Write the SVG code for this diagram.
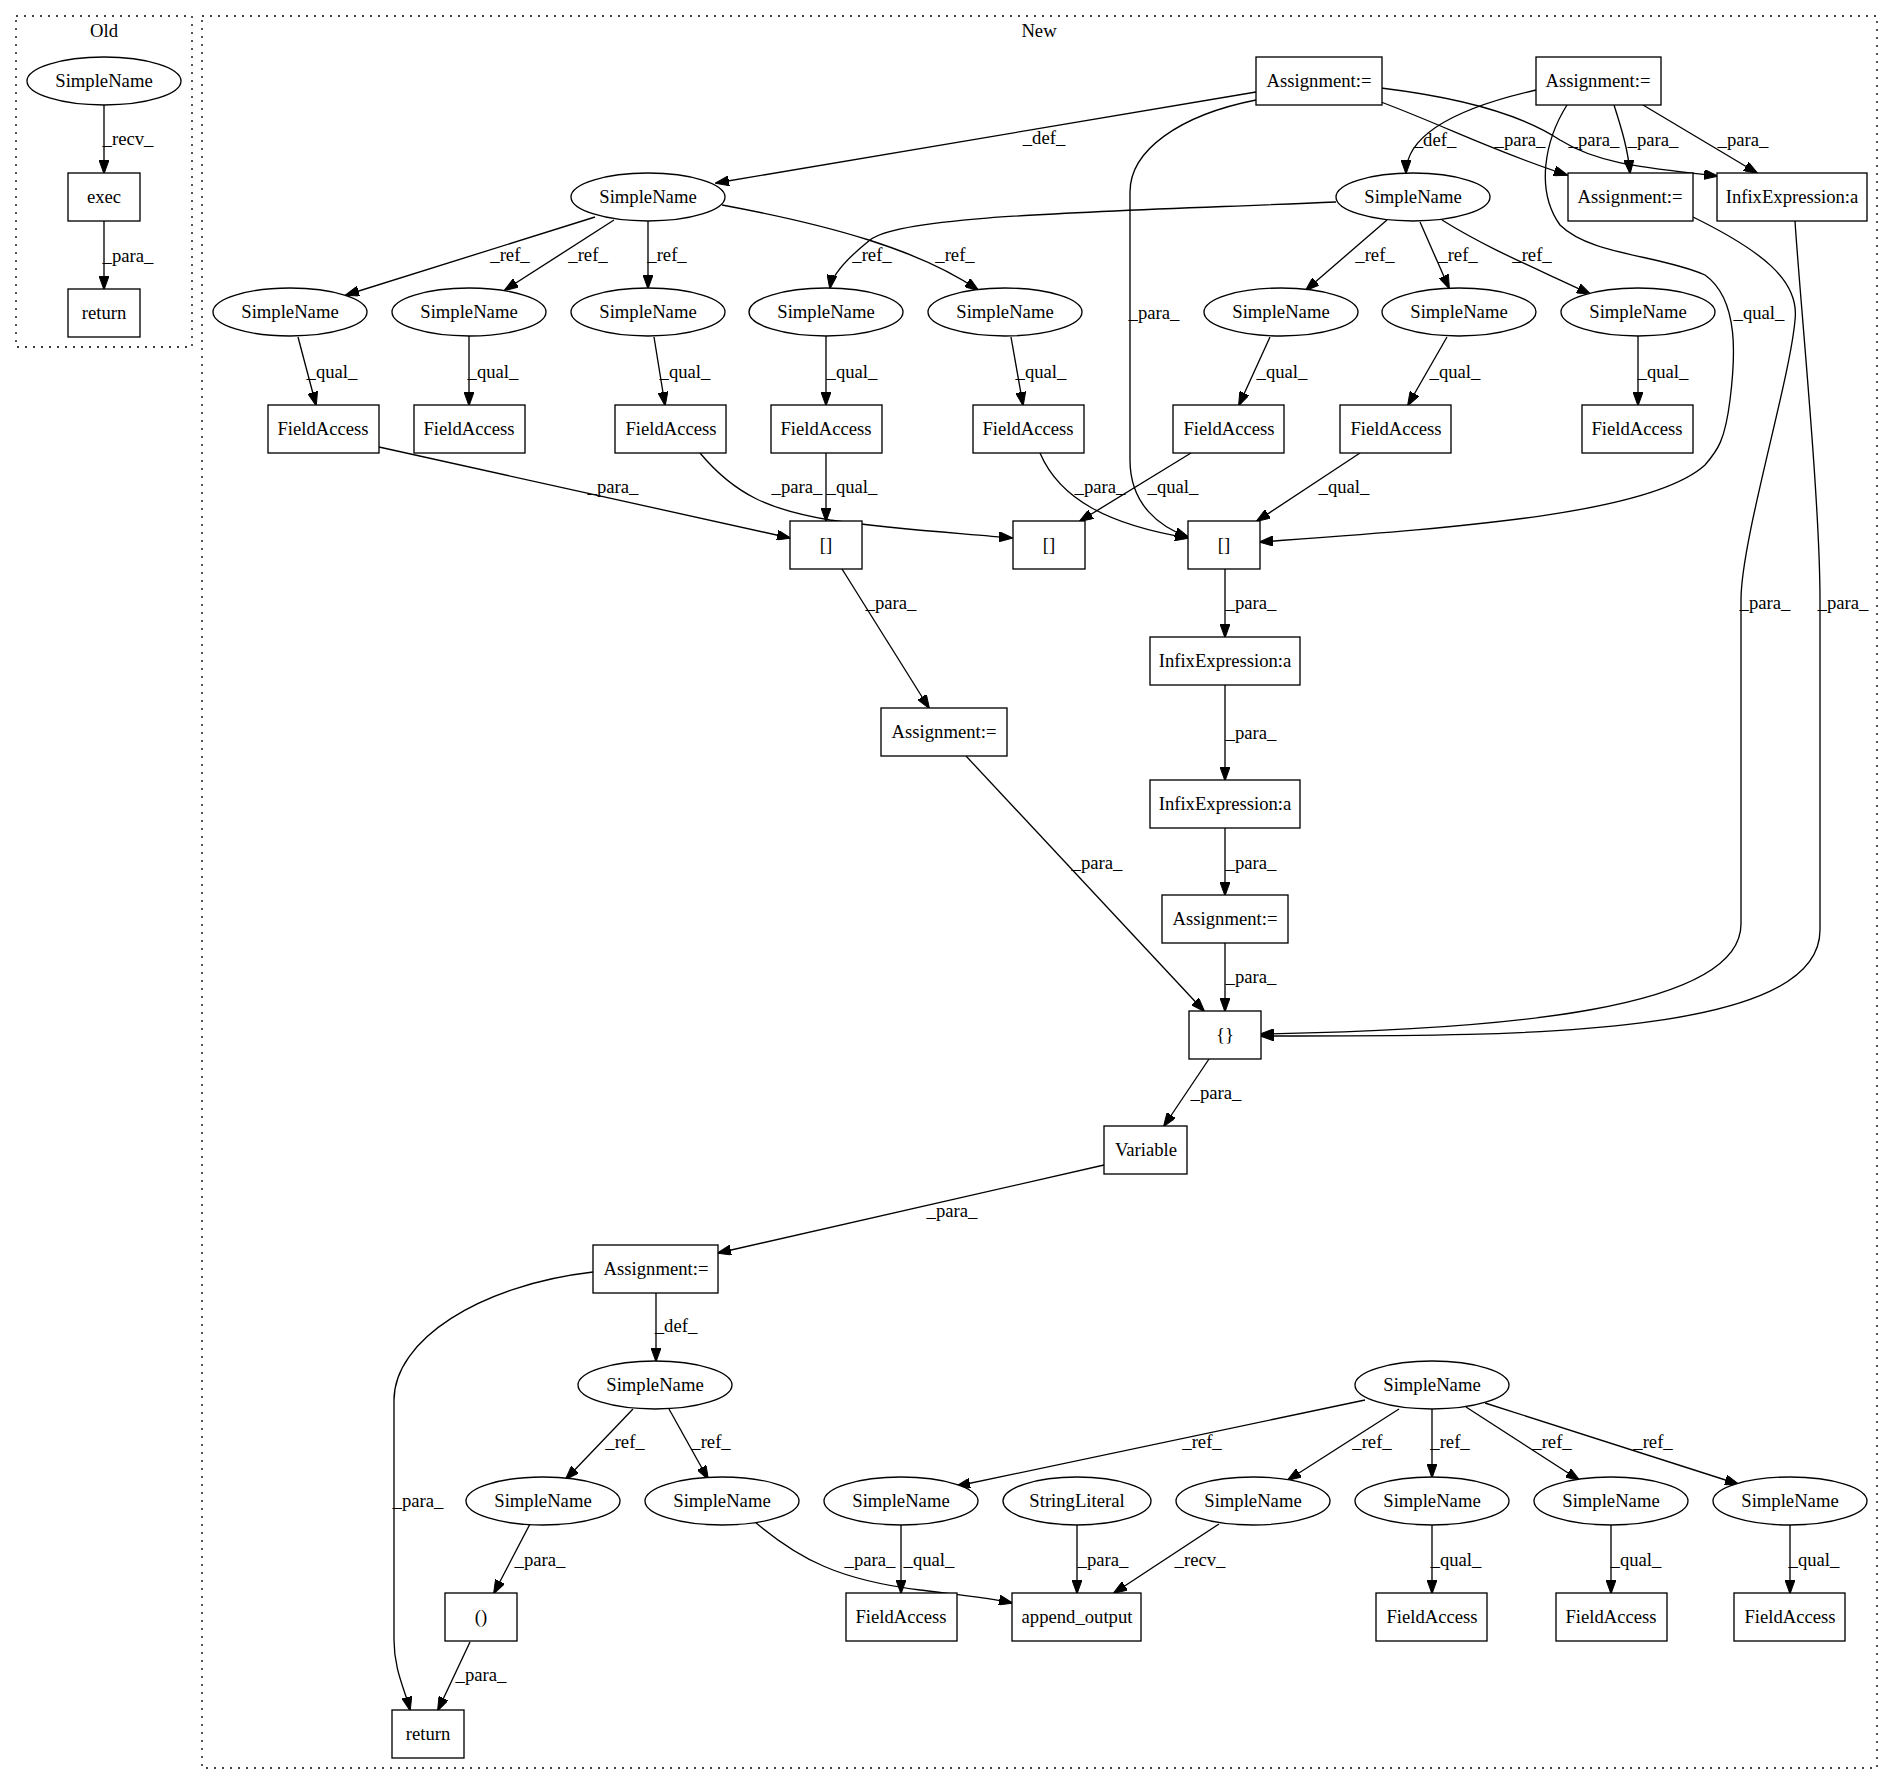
<svg xmlns="http://www.w3.org/2000/svg" width="1893" height="1784" viewBox="0 0 1893 1784">
<style>
.bg{fill:#fff}
.cl{fill:none;stroke:#000;stroke-width:1.33;stroke-dasharray:2,6}
.n rect,.n ellipse{fill:#fff;stroke:#000;stroke-width:1.33}
text{font-family:"Liberation Serif","Times New Roman",serif;font-size:18.67px;text-anchor:middle;fill:#000}
.e path{fill:none;stroke:#000;stroke-width:1.33;marker-end:url(#ah)}
</style>
<defs>
<marker id="ah" markerUnits="userSpaceOnUse" markerWidth="14" markerHeight="10" refX="13" refY="5" orient="auto"><path d="M0,0 L14,5 L0,10 z" fill="#000" stroke="#000" stroke-width="1"/></marker>
</defs>
<rect class="bg" x="0" y="0" width="1893" height="1784"/>
<g id="clusters">
<rect class="cl" x="16" y="16" width="176" height="331"/>
<text x="104" y="37">Old</text>
<rect class="cl" x="202" y="16" width="1675" height="1752"/>
<text x="1039" y="37">New</text>
</g>
<g id="edges" class="e">
<path d="M104,105 L104,173"/>
<path d="M104,221 L104,289"/>
<path d="M1256,92 L716,183"/>
<path d="M1256,100 C1180,115 1130,150 1130,192 L1130,460 C1130,505 1160,527 1188,537"/>
<path d="M1381,102 C1450,128 1490,150 1567,175"/>
<path d="M1381,88 C1480,100 1530,120 1560,140 C1600,165 1650,168 1717,176"/>
<path d="M1536,90 C1470,105 1406,130 1406,173"/>
<path d="M1614,105 C1622,130 1628,150 1630,173"/>
<path d="M1643,105 L1757,173"/>
<path d="M1567,105 C1545,140 1535,190 1560,225 C1590,255 1660,255 1705,275 C1740,300 1735,360 1730,400 C1725,440 1718,450 1705,465 C1650,515 1450,528 1260,542"/>
<path d="M1693,217 C1760,250 1800,280 1795,320 C1790,380 1741,540 1741,600 L1741,924 C1741,1010 1500,1030 1261,1034"/>
<path d="M1795,221 C1800,300 1820,500 1820,600 L1820,930 C1820,1040 1500,1036 1261,1036"/>
<path d="M595,217 L346,295"/>
<path d="M614,220 L505,290"/>
<path d="M648,221 L648,288"/>
<path d="M722,205 C830,225 920,250 978,290"/>
<path d="M1336,202 C1100,212 900,215 870,240 C845,260 832,275 830,288"/>
<path d="M1387,220 L1306,290"/>
<path d="M1420,222 L1449,288"/>
<path d="M1442,220 C1490,250 1540,270 1590,294"/>
<path d="M298,337 L316,405"/>
<path d="M469,336 L469,405"/>
<path d="M654,337 L665,405"/>
<path d="M826,336 L826,405"/>
<path d="M1011,337 L1023,405"/>
<path d="M1270,337 L1239,405"/>
<path d="M1447,337 L1408,405"/>
<path d="M1638,336 L1638,405"/>
<path d="M379,447 L790,538"/>
<path d="M826,453 L826,521"/>
<path d="M700,453 C735,495 770,510 830,520 C900,530 960,533 1012,538"/>
<path d="M1191,453 L1080,521"/>
<path d="M1040,453 C1060,500 1110,525 1188,538"/>
<path d="M1360,453 L1257,521"/>
<path d="M842,569 L929,708"/>
<path d="M1225,569 L1225,637"/>
<path d="M1225,685 L1225,780"/>
<path d="M1225,828 L1225,895"/>
<path d="M966,756 L1204,1011"/>
<path d="M1225,943 L1225,1011"/>
<path d="M1209,1059 L1164,1126"/>
<path d="M1104,1165 L718,1253"/>
<path d="M656,1293 L656,1361"/>
<path d="M593,1272 C480,1285 394,1340 394,1400 L394,1640 C394,1670 405,1690 410,1710"/>
<path d="M633,1409 L566,1479"/>
<path d="M669,1409 L708,1479"/>
<path d="M530,1524 L494,1593"/>
<path d="M755,1522 C800,1560 840,1580 920,1590 C960,1595 990,1598 1012,1603"/>
<path d="M901,1525 L901,1593"/>
<path d="M470,1642 L438,1710"/>
<path d="M1365,1400 L957,1486"/>
<path d="M1399,1409 L1288,1480"/>
<path d="M1432,1409 L1432,1477"/>
<path d="M1466,1407 L1579,1480"/>
<path d="M1485,1403 L1738,1484"/>
<path d="M1077,1525 L1077,1593"/>
<path d="M1219,1524 L1114,1593"/>
<path d="M1432,1525 L1432,1593"/>
<path d="M1611,1525 L1611,1593"/>
<path d="M1790,1525 L1790,1593"/>
</g>
<g id="edge-labels">
<text x="128" y="145">_recv_</text>
<text x="128" y="262">_para_</text>
<text x="1044" y="144">_def_</text>
<text x="1154" y="319">_para_</text>
<text x="1520" y="146">_para_</text>
<text x="1594" y="146">_para_</text>
<text x="1435" y="146">_def_</text>
<text x="1653" y="146">_para_</text>
<text x="1743" y="146">_para_</text>
<text x="1759" y="319">_qual_</text>
<text x="510" y="261">_ref_</text>
<text x="588" y="261">_ref_</text>
<text x="667" y="261">_ref_</text>
<text x="872" y="261">_ref_</text>
<text x="955" y="261">_ref_</text>
<text x="1375" y="261">_ref_</text>
<text x="1458" y="261">_ref_</text>
<text x="1532" y="261">_ref_</text>
<text x="332" y="378">_qual_</text>
<text x="493" y="378">_qual_</text>
<text x="685" y="378">_qual_</text>
<text x="852" y="378">_qual_</text>
<text x="1041" y="378">_qual_</text>
<text x="1282" y="378">_qual_</text>
<text x="1455" y="378">_qual_</text>
<text x="1663" y="378">_qual_</text>
<text x="613" y="493">_para_</text>
<text x="797" y="493">_para_</text>
<text x="852" y="493">_qual_</text>
<text x="1100" y="493">_para_</text>
<text x="1173" y="493">_qual_</text>
<text x="1344" y="493">_qual_</text>
<text x="891" y="609">_para_</text>
<text x="1251" y="609">_para_</text>
<text x="1765" y="609">_para_</text>
<text x="1843" y="609">_para_</text>
<text x="1251" y="739">_para_</text>
<text x="1097" y="869">_para_</text>
<text x="1251" y="869">_para_</text>
<text x="1251" y="983">_para_</text>
<text x="1216" y="1099">_para_</text>
<text x="952" y="1217">_para_</text>
<text x="676" y="1332">_def_</text>
<text x="418" y="1507">_para_</text>
<text x="625" y="1448">_ref_</text>
<text x="711" y="1448">_ref_</text>
<text x="540" y="1566">_para_</text>
<text x="870" y="1566">_para_</text>
<text x="929" y="1566">_qual_</text>
<text x="481" y="1681">_para_</text>
<text x="1202" y="1448">_ref_</text>
<text x="1372" y="1448">_ref_</text>
<text x="1450" y="1448">_ref_</text>
<text x="1552" y="1448">_ref_</text>
<text x="1653" y="1448">_ref_</text>
<text x="1103" y="1566">_para_</text>
<text x="1200" y="1566">_recv_</text>
<text x="1456" y="1566">_qual_</text>
<text x="1636" y="1566">_qual_</text>
<text x="1814" y="1566">_qual_</text>
</g>
<g id="old_simplename" class="n"><ellipse cx="104" cy="81" rx="77" ry="24"/><text x="104" y="87">SimpleName</text></g>
<g id="old_exec" class="n"><rect x="68" y="173" width="72" height="48"/><text x="104" y="203">exec</text></g>
<g id="old_return" class="n"><rect x="68" y="289" width="72" height="48"/><text x="104" y="319">return</text></g>
<g id="a1" class="n"><rect x="1256" y="57" width="126" height="48"/><text x="1319" y="87">Assignment:=</text></g>
<g id="a2" class="n"><rect x="1536" y="57" width="125" height="48"/><text x="1598" y="87">Assignment:=</text></g>
<g id="s1" class="n"><ellipse cx="648" cy="197" rx="77" ry="24"/><text x="648" y="203">SimpleName</text></g>
<g id="s2" class="n"><ellipse cx="1413" cy="197" rx="77" ry="24"/><text x="1413" y="203">SimpleName</text></g>
<g id="a3" class="n"><rect x="1568" y="173" width="125" height="48"/><text x="1630" y="203">Assignment:=</text></g>
<g id="i1" class="n"><rect x="1717" y="173" width="150" height="48"/><text x="1792" y="203">InfixExpression:a</text></g>
<g id="r1" class="n"><ellipse cx="290" cy="312" rx="77" ry="24"/><text x="290" y="318">SimpleName</text></g>
<g id="r2" class="n"><ellipse cx="469" cy="312" rx="77" ry="24"/><text x="469" y="318">SimpleName</text></g>
<g id="r3" class="n"><ellipse cx="648" cy="312" rx="77" ry="24"/><text x="648" y="318">SimpleName</text></g>
<g id="r4" class="n"><ellipse cx="826" cy="312" rx="77" ry="24"/><text x="826" y="318">SimpleName</text></g>
<g id="r5" class="n"><ellipse cx="1005" cy="312" rx="77" ry="24"/><text x="1005" y="318">SimpleName</text></g>
<g id="r6" class="n"><ellipse cx="1281" cy="312" rx="77" ry="24"/><text x="1281" y="318">SimpleName</text></g>
<g id="r7" class="n"><ellipse cx="1459" cy="312" rx="77" ry="24"/><text x="1459" y="318">SimpleName</text></g>
<g id="r8" class="n"><ellipse cx="1638" cy="312" rx="77" ry="24"/><text x="1638" y="318">SimpleName</text></g>
<g id="f1" class="n"><rect x="268" y="405" width="111" height="48"/><text x="323" y="435">FieldAccess</text></g>
<g id="f2" class="n"><rect x="414" y="405" width="111" height="48"/><text x="469" y="435">FieldAccess</text></g>
<g id="f3" class="n"><rect x="615" y="405" width="111" height="48"/><text x="671" y="435">FieldAccess</text></g>
<g id="f4" class="n"><rect x="771" y="405" width="111" height="48"/><text x="826" y="435">FieldAccess</text></g>
<g id="f5" class="n"><rect x="973" y="405" width="111" height="48"/><text x="1028" y="435">FieldAccess</text></g>
<g id="f6" class="n"><rect x="1173" y="405" width="111" height="48"/><text x="1229" y="435">FieldAccess</text></g>
<g id="f7" class="n"><rect x="1340" y="405" width="111" height="48"/><text x="1396" y="435">FieldAccess</text></g>
<g id="f8" class="n"><rect x="1582" y="405" width="111" height="48"/><text x="1637" y="435">FieldAccess</text></g>
<g id="b1" class="n"><rect x="790" y="521" width="72" height="48"/><text x="826" y="551">[]</text></g>
<g id="b2" class="n"><rect x="1013" y="521" width="72" height="48"/><text x="1049" y="551">[]</text></g>
<g id="b3" class="n"><rect x="1188" y="521" width="72" height="48"/><text x="1224" y="551">[]</text></g>
<g id="i2" class="n"><rect x="1150" y="637" width="150" height="48"/><text x="1225" y="667">InfixExpression:a</text></g>
<g id="a4" class="n"><rect x="881" y="708" width="126" height="48"/><text x="944" y="738">Assignment:=</text></g>
<g id="i3" class="n"><rect x="1150" y="780" width="150" height="48"/><text x="1225" y="810">InfixExpression:a</text></g>
<g id="a5" class="n"><rect x="1162" y="895" width="126" height="48"/><text x="1225" y="925">Assignment:=</text></g>
<g id="brace" class="n"><rect x="1189" y="1011" width="72" height="48"/><text x="1225" y="1041">{}</text></g>
<g id="variable" class="n"><rect x="1104" y="1126" width="83" height="48"/><text x="1146" y="1156">Variable</text></g>
<g id="a6" class="n"><rect x="593" y="1245" width="125" height="48"/><text x="656" y="1275">Assignment:=</text></g>
<g id="s3" class="n"><ellipse cx="655" cy="1385" rx="77" ry="24"/><text x="655" y="1391">SimpleName</text></g>
<g id="s11" class="n"><ellipse cx="1432" cy="1385" rx="77" ry="24"/><text x="1432" y="1391">SimpleName</text></g>
<g id="s4" class="n"><ellipse cx="543" cy="1501" rx="77" ry="24"/><text x="543" y="1507">SimpleName</text></g>
<g id="s5" class="n"><ellipse cx="722" cy="1501" rx="77" ry="24"/><text x="722" y="1507">SimpleName</text></g>
<g id="s6" class="n"><ellipse cx="901" cy="1501" rx="77" ry="24"/><text x="901" y="1507">SimpleName</text></g>
<g id="sl" class="n"><ellipse cx="1077" cy="1501" rx="74" ry="24"/><text x="1077" y="1507">StringLiteral</text></g>
<g id="s7" class="n"><ellipse cx="1253" cy="1501" rx="77" ry="24"/><text x="1253" y="1507">SimpleName</text></g>
<g id="s8" class="n"><ellipse cx="1432" cy="1501" rx="77" ry="24"/><text x="1432" y="1507">SimpleName</text></g>
<g id="s9" class="n"><ellipse cx="1611" cy="1501" rx="77" ry="24"/><text x="1611" y="1507">SimpleName</text></g>
<g id="s10" class="n"><ellipse cx="1790" cy="1501" rx="77" ry="24"/><text x="1790" y="1507">SimpleName</text></g>
<g id="paren" class="n"><rect x="445" y="1593" width="72" height="48"/><text x="481" y="1623">()</text></g>
<g id="f9" class="n"><rect x="846" y="1593" width="111" height="48"/><text x="901" y="1623">FieldAccess</text></g>
<g id="append_output" class="n"><rect x="1012" y="1593" width="129" height="48"/><text x="1077" y="1623">append_output</text></g>
<g id="f10" class="n"><rect x="1376" y="1593" width="111" height="48"/><text x="1432" y="1623">FieldAccess</text></g>
<g id="f11" class="n"><rect x="1556" y="1593" width="111" height="48"/><text x="1611" y="1623">FieldAccess</text></g>
<g id="f12" class="n"><rect x="1734" y="1593" width="111" height="48"/><text x="1790" y="1623">FieldAccess</text></g>
<g id="return2" class="n"><rect x="392" y="1710" width="72" height="48"/><text x="428" y="1740">return</text></g>
</svg>
